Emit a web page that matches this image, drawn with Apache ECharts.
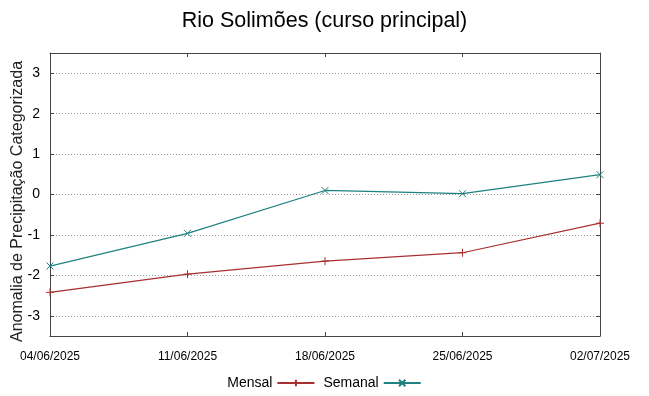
<!DOCTYPE html>
<html>
<head>
<meta charset="utf-8">
<script src="https://cdn.jsdelivr.net/npm/echarts@6/dist/echarts.min.js"></script>
<style>
  html, body { margin: 0; padding: 0; background: #fff; }
  #chart { width: 649px; height: 396px; }
</style>
</head>
<body>
<div id="chart"></div>
<script>
  // dados
  var datas = ['04/06/2025', '11/06/2025', '18/06/2025', '25/06/2025', '02/07/2025'];
  var mensal = [-2.42, -1.97, -1.65, -1.44, -0.71];
  var semanal = [-1.77, -0.96, 0.10, 0.02, 0.49];
  var yTicks = [-3, -2, -1, 0, 1, 2, 3];

  var corMensal = '#a83030';
  var corSemanal = '#1f8080';
  var fonte = '"Liberation Sans", Arial, sans-serif';

  var chart = echarts.init(document.getElementById('chart'));

  var eixoCor = '#444';

  chart.setOption({
    animation: false,
    textStyle: { fontFamily: fonte },
    title: {
      text: 'Rio Solimões (curso principal)',
      left: 'center',
      top: 5,
      textStyle: { fontFamily: fonte, fontSize: 21.5, fontWeight: 'normal', color: '#000' }
    },
    legend: {
      bottom: 1,
      left: 'center',
      align: 'right',
      itemWidth: 37,
      itemHeight: 8,
      itemGap: 8,
      textStyle: { fontFamily: fonte, fontSize: 14, color: '#000' },
      data: ['Mensal', 'Semanal']
    },
    grid: { left: 50, right: 49, top: 53, bottom: 60, outerBoundsMode: 'none', containLabel: false },
    xAxis: [{
      type: 'category',
      data: datas,
      boundaryGap: false,
      axisLine: { onZero: false, lineStyle: { color: eixoCor, width: 1 } },
      axisTick: { inside: true, length: 4, alignWithLabel: true, lineStyle: { color: eixoCor } },
      axisLabel: { fontFamily: fonte, fontSize: 12, color: '#000', margin: 15, interval: 0 },
      splitLine: { show: false }
    }, {
      type: 'category',
      data: datas,
      position: 'top',
      boundaryGap: false,
      axisLine: { onZero: false, lineStyle: { color: eixoCor, width: 1 } },
      axisTick: { inside: true, length: 4, lineStyle: { color: eixoCor } },
      axisLabel: { show: false },
      splitLine: { show: false }
    }],
    yAxis: [{
      type: 'value',
      min: -3.5,
      max: 3.5,
      name: 'Anomalia de Precipitação Categorizada',
      nameLocation: 'middle',
      nameGap: 24,
      nameMoveOverlap: false,
      nameTextStyle: { fontFamily: fonte, fontSize: 16, color: '#222', padding: [0, 14, 0, 0] },
      axisLine: { show: true, onZero: false, lineStyle: { color: eixoCor, width: 1 } },
      axisTick: { show: true, inside: true, length: 4, customValues: yTicks, lineStyle: { color: eixoCor } },
      axisLabel: { fontFamily: fonte, fontSize: 14, color: '#000', margin: 10, customValues: yTicks },
      splitLine: { show: true, lineStyle: { color: '#999', type: [1, 2], width: 1 } }
    }, {
      type: 'value',
      position: 'right',
      min: -3.5,
      max: 3.5,
      axisLine: { show: true, onZero: false, lineStyle: { color: eixoCor, width: 1 } },
      axisTick: { show: true, inside: true, length: 4, customValues: yTicks, lineStyle: { color: eixoCor } },
      axisLabel: { show: false },
      splitLine: { show: false }
    }],
    series: [{
      name: 'Mensal',
      type: 'line',
      data: mensal,
      symbol: 'path://M0,5 L10,5 M5,0 L5,10',
      symbolSize: 8,
      lineStyle: { color: corMensal, width: 1.2 },
      itemStyle: { color: corMensal, borderColor: corMensal, borderWidth: 1 }
    }, {
      name: 'Semanal',
      type: 'line',
      data: semanal,
      symbol: 'path://M0,0 L10,10 M10,0 L0,10',
      symbolSize: 7,
      lineStyle: { color: corSemanal, width: 1.2 },
      itemStyle: { color: corSemanal, borderColor: corSemanal, borderWidth: 1 }
    }]
  });
</script>
</body>
</html>
